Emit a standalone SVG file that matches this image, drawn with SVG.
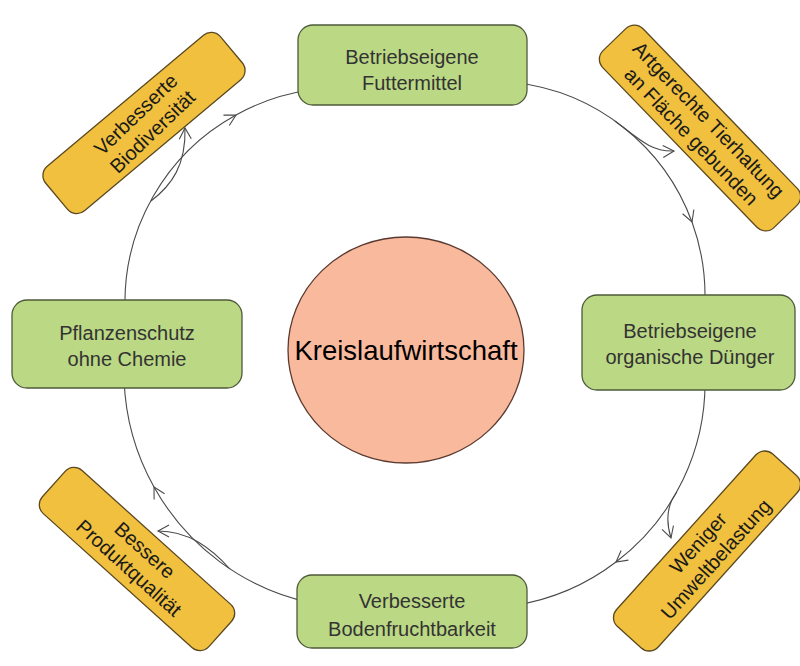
<svg xmlns="http://www.w3.org/2000/svg" width="800" height="666" viewBox="0 0 800 666">
<defs>
<marker id="arr" viewBox="-13 -8 15 16" markerWidth="15" markerHeight="16" refX="0" refY="0" orient="auto" markerUnits="userSpaceOnUse">
<path d="M-11,-6 L0,0 L-11,6" fill="none" stroke="#4a4a4a" stroke-width="1.1"/>
</marker>
<style>
.con{fill:none;stroke:#4a4a4a;stroke-width:1.1}
.main{marker-mid:url(#arr)}
.br{marker-end:url(#arr)}
.g{fill:#bbd884;stroke:#4d5a3a;stroke-width:1.3}
.o{fill:#f0c03e;stroke:#5a4820;stroke-width:1.3}
.gt{font-family:"Liberation Sans",Arial,sans-serif;font-size:20px;fill:#333;text-anchor:middle}
.ot{font-family:"Liberation Sans",Arial,sans-serif;font-size:20px;fill:#1a1a1a;text-anchor:middle}
</style>
</defs>
<rect width="800" height="666" fill="#fff"/>
<g id="connectors">
<path class="con main" d="M515,82.5 A215,215 0 0 1 692,222 A215,215 0 0 1 704.2,314"/>
<path class="con main" d="M704.9,375 A225,225 0 0 1 616,562 A225,225 0 0 1 515,605.3"/>
<path class="con main" d="M310,602.6 A236,236 0 0 1 154,487 A236,236 0 0 1 124.1,380"/>
<path class="con main" d="M125.1,310 A214,214 0 0 1 236,115 A214,214 0 0 1 310,90"/>
<path class="con br" d="M615,121 C640,140 652,152 674,151"/>
<path class="con br" d="M676.8,492 C667,505 666,522 671,538"/>
<path class="con br" d="M230,569 C210,547 188,531 158,531"/>
<path class="con br" d="M151,201 C172,185 186,165 185,128"/>
</g>
<g id="center">
<ellipse cx="406" cy="350" rx="118" ry="113" fill="#f9b99d" stroke="#5a3a30" stroke-width="1.3"/>
<text x="406" y="360" font-family="Liberation Sans,Arial,sans-serif" font-size="27.5" fill="#000" text-anchor="middle">Kreislaufwirtschaft</text>
</g>
<g id="futtermittel">
<rect class="g" x="298" y="25" width="229" height="80" rx="15"/>
<text class="gt" x="412" y="64">Betriebseigene</text>
<text class="gt" x="412" y="90">Futtermittel</text>
</g>
<g id="duenger">
<rect class="g" x="582" y="295" width="213" height="95" rx="15"/>
<text class="gt" x="690" y="338">Betriebseigene</text>
<text class="gt" x="690" y="364">organische Dünger</text>
</g>
<g id="boden">
<rect class="g" x="297" y="575" width="230" height="73" rx="15"/>
<text class="gt" x="412" y="608">Verbesserte</text>
<text class="gt" x="412" y="636">Bodenfruchtbarkeit</text>
</g>
<g id="pflanzenschutz">
<rect class="g" x="12" y="300" width="230" height="88" rx="15"/>
<text class="gt" x="127" y="340">Pflanzenschutz</text>
<text class="gt" x="127" y="366">ohne Chemie</text>
</g>
<g id="biodiversitaet" transform="translate(144,123)">
<rect class="o" x="-114" y="-29" width="228" height="58" rx="12" transform="rotate(-40)"/>
<g transform="rotate(-44)">
<text class="ot" x="0" y="-5">Verbesserte</text>
<text class="ot" x="0" y="19">Biodiversität</text>
</g>
</g>
<g id="tierhaltung" transform="translate(700,128) rotate(46)">
<rect class="o" x="-123" y="-28" width="246" height="56" rx="12"/>
<text class="ot" x="0" y="-5">Artgerechte Tierhaltung</text>
<text class="ot" x="0" y="19">an Fläche gebunden</text>
</g>
<g id="umwelt" transform="translate(707,551) rotate(-48)">
<rect class="o" x="-116" y="-28" width="232" height="56" rx="12"/>
<text class="ot" x="0" y="-5">Weniger</text>
<text class="ot" x="0" y="19">Umweltbelastung</text>
</g>
<g id="produktqualitaet" transform="translate(137,559) rotate(42)">
<rect class="o" x="-112" y="-29" width="224" height="58" rx="12"/>
<text class="ot" x="0" y="-5">Bessere</text>
<text class="ot" x="0" y="19">Produktqualität</text>
</g>
</svg>
